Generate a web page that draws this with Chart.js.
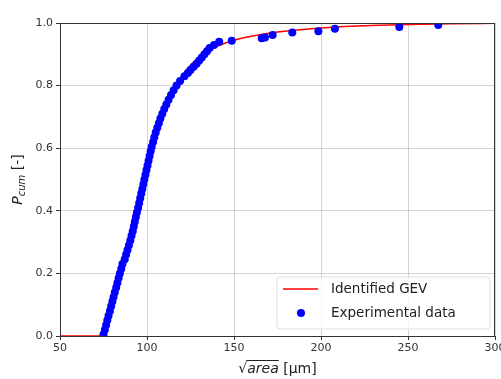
<!DOCTYPE html>
<html>
<head>
<meta charset="utf-8">
<script src="https://cdn.jsdelivr.net/npm/chart.js@4.4.0/dist/chart.umd.min.js"></script>
<style>
  body { margin: 0; background: #fff; }
  canvas { display: block; }
</style>
</head>
<body>
<canvas id="gev-chart" width="501" height="379"></canvas>
<script>
// fitted GEV curve
const gevX = [50, 73, 74.5, 76, 78, 80, 82.5, 85, 87.5, 90, 92.5, 95, 97.5, 100, 102.5, 105, 107.5, 110, 115, 120, 125, 130, 135, 140, 150, 160, 175, 200, 225, 250, 275, 300];
const gevP = [0, 0, 0.003, 0.022, 0.066, 0.11, 0.165, 0.218, 0.27, 0.318, 0.37, 0.42, 0.48, 0.55, 0.605, 0.65, 0.69, 0.725, 0.785, 0.83, 0.865, 0.89, 0.91, 0.925, 0.945, 0.958, 0.971, 0.984, 0.991, 0.995, 0.998, 0.999];

// experimental points
const expX = [75.0, 75.8, 76.5, 77.2, 77.9, 78.7, 79.4, 80.1, 80.8, 81.5, 82.3, 83.0, 83.7, 84.4, 85.2, 85.9, 87.2, 88.0, 88.8, 89.6,
  90.4, 91.1, 91.8, 92.4, 93.0, 93.6, 94.2, 94.9, 95.5, 96.1, 96.7, 97.3, 97.9, 98.5, 99.1, 99.7, 100.3, 100.9, 101.5, 102.1,
  102.7, 103.5, 104.2, 105.0, 105.9, 106.8, 107.7, 108.8, 109.9, 111.1, 112.4, 113.8, 115.3, 117.0, 119.0, 121.5, 123.5, 125.0, 126.8, 128.5,
  130.0, 131.5, 133.0, 134.5, 136.0, 138.5, 141.5, 148.7, 165.9, 167.8, 172.2, 183.5, 198.5, 208, 245, 267.4];
const expP = [0.005, 0.02, 0.035, 0.05, 0.065, 0.08, 0.095, 0.11, 0.125, 0.14, 0.155, 0.17, 0.185, 0.2, 0.215, 0.23, 0.245, 0.26, 0.275, 0.29,
  0.305, 0.32, 0.335, 0.35, 0.365, 0.38, 0.395, 0.41, 0.425, 0.44, 0.455, 0.47, 0.485, 0.5, 0.515, 0.53, 0.545, 0.56, 0.575, 0.59,
  0.605, 0.62, 0.635, 0.65, 0.665, 0.68, 0.695, 0.71, 0.725, 0.74, 0.755, 0.77, 0.785, 0.8, 0.815, 0.83, 0.84, 0.85, 0.86, 0.87,
  0.88, 0.89, 0.9, 0.91, 0.92, 0.93, 0.94, 0.943, 0.951, 0.954, 0.962, 0.97, 0.974, 0.982, 0.987, 0.994];

const xTicks = [50, 100, 150, 200, 250, 300];
const yTicks = [0, 0.2, 0.4, 0.6, 0.8, 1.0];

const FONT = 'DejaVu Sans, sans-serif';

// axis titles, frame and legend drawn by hand (matplotlib look)
const extras = {
  id: 'extras',
  afterDraw(chart) {
    const ctx = chart.ctx;
    const a = chart.chartArea;
    ctx.save();

    // frame
    ctx.strokeStyle = '#333';
    ctx.lineWidth = 1;
    ctx.strokeRect(a.left + 0.5, a.top + 0.5, a.right - a.left - 1, a.bottom - a.top);

    // y title: P_cum [-]
    ctx.fillStyle = '#222';
    ctx.textBaseline = 'middle';
    ctx.translate(18, (a.top + a.bottom) / 2);
    ctx.rotate(-Math.PI / 2);
    const big = 'italic 14px ' + FONT, small = 'italic 10px ' + FONT, norm = '14px ' + FONT;
    ctx.font = big; const wP = ctx.measureText('P').width;
    ctx.font = small; const wC = ctx.measureText('cum').width;
    ctx.font = norm; const wB = ctx.measureText(' [-]').width;
    let x0 = -(wP + wC + wB) / 2;
    ctx.font = big; ctx.fillText('P', x0, 0);
    ctx.font = small; ctx.fillText('cum', x0 + wP, 4);
    ctx.font = norm; ctx.fillText(' [-]', x0 + wP + wC, 0);
    ctx.setTransform(1, 0, 0, 1, 0, 0);

    // x title: sqrt(area) [µm]
    const ty = 369;
    ctx.font = norm; const wS = ctx.measureText('\u221A').width;
    ctx.font = big; const wA = ctx.measureText('area').width;
    ctx.font = norm; const wU = ctx.measureText(' [\u03BCm]').width;
    x0 = (a.left + a.right) / 2 - (wS + wA + wU) / 2;
    ctx.font = norm; ctx.fillText('\u221A', x0, ty);
    ctx.font = big; ctx.fillText('area', x0 + wS, ty);
    ctx.font = norm; ctx.fillText(' [\u03BCm]', x0 + wS + wA, ty);
    ctx.strokeStyle = '#222';
    ctx.beginPath();
    ctx.moveTo(x0 + wS - 1, ty - 8.5);
    ctx.lineTo(x0 + wS + wA, ty - 8.5);
    ctx.stroke();

    // legend
    const lx = 277, ly = 277, lw = 213, lh = 52;
    ctx.fillStyle = 'rgba(255,255,255,0.8)';
    ctx.strokeStyle = 'rgba(215,215,215,0.8)';
    ctx.beginPath();
    ctx.roundRect(lx, ly, lw, lh, 3);
    ctx.fill();
    ctx.stroke();
    const ds = chart.data.datasets;
    ctx.strokeStyle = ds[0].borderColor;
    ctx.lineWidth = 1.5;
    ctx.beginPath();
    ctx.moveTo(283, 289);
    ctx.lineTo(318, 289);
    ctx.stroke();
    ctx.fillStyle = ds[1].backgroundColor;
    ctx.beginPath();
    ctx.arc(301, 313, 4, 0, Math.PI * 2);
    ctx.fill();
    ctx.fillStyle = '#222';
    ctx.font = '13.5px ' + FONT;
    ctx.textBaseline = 'middle';
    ctx.fillText(ds[0].label, 331, 289);
    ctx.fillText(ds[1].label, 331, 313);
    ctx.restore();
  }
};

const tickFont = { family: FONT, size: 11 };

new Chart(document.getElementById('gev-chart'), {
  data: {
    datasets: [
      {
        type: 'line',
        label: 'Identified GEV',
        data: gevX.map((x, i) => ({ x: x, y: gevP[i] })),
        borderColor: '#ff0000',
        borderWidth: 1.5,
        pointRadius: 0,
        cubicInterpolationMode: 'monotone',
        order: 1
      },
      {
        type: 'scatter',
        label: 'Experimental data',
        data: expX.map((x, i) => ({ x: x, y: expP[i] })),
        backgroundColor: '#0000ff',
        borderColor: '#0000ff',
        borderWidth: 0,
        pointRadius: 4,
        order: 0
      }
    ]
  },
  options: {
    responsive: false,
    animation: false,
    layout: { padding: { left: 0, right: 6, top: 23, bottom: 0 } },
    plugins: { legend: { display: false }, tooltip: { enabled: false } },
    scales: {
      x: {
        type: 'linear',
        min: 50,
        max: 300,
        afterBuildTicks: s => { s.ticks = xTicks.map(v => ({ value: v })); },
        afterFit: s => { s.height = 43; s.paddingLeft = 0; s.paddingRight = 0; },
        ticks: { color: '#333', font: tickFont, padding: 2, maxRotation: 0 },
        grid: { color: 'rgba(0,0,0,0.17)', tickColor: '#333', tickLength: 4 },
        border: { color: '#333' }
      },
      y: {
        type: 'linear',
        min: 0,
        max: 1,
        afterBuildTicks: s => { s.ticks = yTicks.map(v => ({ value: v })); },
        afterFit: s => { s.width = 60; s.paddingTop = 0; s.paddingBottom = 0; },
        ticks: { color: '#333', font: tickFont, padding: 3, callback: v => v.toFixed(1) },
        grid: { color: 'rgba(0,0,0,0.17)', tickColor: '#333', tickLength: 4 },
        border: { color: '#333' }
      }
    }
  },
  plugins: [extras]
});
</script>
</body>
</html>
